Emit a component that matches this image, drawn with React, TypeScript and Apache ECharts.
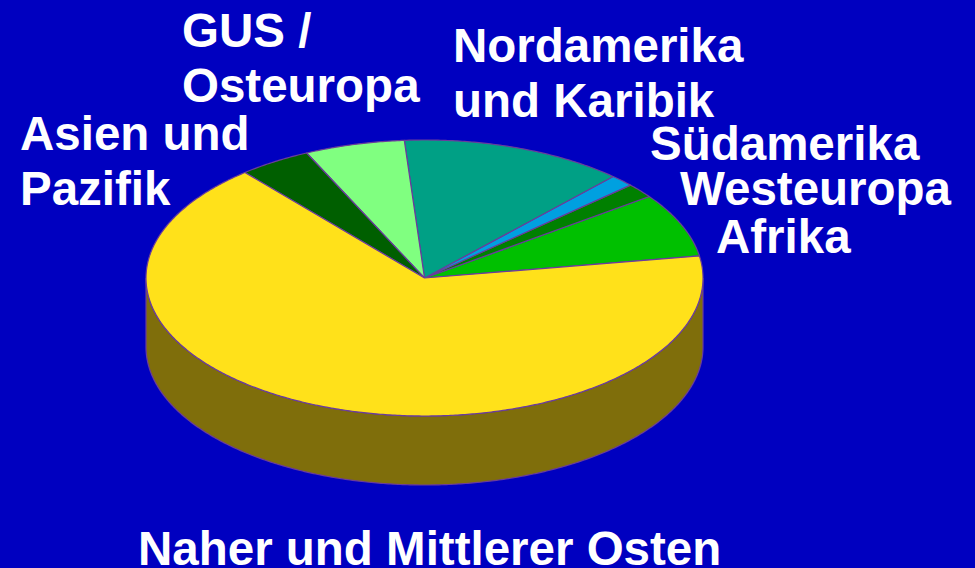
import React, { useEffect, useRef } from "react";
import * as echarts from "echarts";

// ---- data ----
const categories = [
  "Afrika",
  "Westeuropa",
  "Südamerika",
  "Nordamerika\nund Karibik",
  "GUS /\nOsteuropa",
  "Asien und\nPazifik",
  "Naher und Mittlerer Osten",
];
const shares = [7.5, 1.7, 1.4, 13.0, 5.8, 4.2, 66.4];
const topColors = ["#00C000", "#008000", "#00A0E0", "#00A085", "#80FF80", "#005F00", "#FFE11A"];
const sideColors = ["#006000", "#004000", "#005070", "#005042", "#408040", "#003000", "#7F6E0B"];

// ---- layout ----
const W = 975;
const H = 568;
const CX = 424.5;
const CY = 278;
const RX = 278.5;
const RY = 138;
const DEPTH = 69;
const START_ANGLE = 9.2; // degrees, counter-clockwise from 3 o'clock
const labelPos: [number, number][] = [
  [716, 253],
  [680, 205],
  [650, 160],
  [453, 62],
  [182, 47],
  [20, 150],
  [138, 565],
];
const LINE_GAP = 55;
const FONT_SIZE = 47.5;
const FONT = `bold ${FONT_SIZE}px "Liberation Sans", Arial, sans-serif`;
const OUTLINE = "#6A3C9C";
const BG = "#0000C0";

const RAD = Math.PI / 180;
const pt = (t: number, dy = 0): [number, number] => [
  CX + RX * Math.cos(t * RAD),
  CY - RY * Math.sin(t * RAD) + dy,
];
const arc = (a0: number, a1: number, dy = 0) => {
  const n = Math.max(2, Math.ceil(Math.abs(a1 - a0) / 0.5) + 1);
  const pts: [number, number][] = [];
  for (let k = 0; k < n; k++) pts.push(pt(a0 + ((a1 - a0) * k) / (n - 1), dy));
  return pts;
};

function sliceRange(idx: number, value: number) {
  const total = shares.reduce((a, b) => a + b, 0);
  let acc = 0;
  for (let j = 0; j < idx; j++) acc += shares[j];
  const a0 = START_ANGLE + (acc / total) * 360;
  const a1 = a0 + (value / total) * 360;
  return [a0, a1];
}

export default function App() {
  const ref = useRef<HTMLDivElement>(null);
  useEffect(() => {
    document.body.style.margin = "0";
    document.body.style.background = BG;
    const chart = echarts.init(ref.current!, null, { renderer: "svg" });
    const data = shares.map((v, i) => ({ value: v, name: categories[i] }));

    const graphic: any[] = [];
    categories.forEach((name, i) => {
      name.split("\n").forEach((line, j) => {
        graphic.push({
          type: "text",
          x: labelPos[i][0],
          y: labelPos[i][1] + j * LINE_GAP - FONT_SIZE * 0.3465,
          z: 10,
          style: {
            text: line,
            fill: "#FFFFFF",
            font: FONT,
            align: "left",
            verticalAlign: "middle",
          },
        });
      });
    });

    chart.setOption({
      animation: false,
      backgroundColor: BG,
      graphic,
      series: [
        {
          type: "custom",
          name: "side",
          coordinateSystem: "none",
          z: 1,
          data,
          renderItem: (params: any, api: any) => {
            const idx = params.dataIndex;
            const [a0, a1] = sliceRange(idx, api.value(0));
            const children: any[] = [];
            for (let k = -1; k <= 2; k++) {
              const lo = Math.max(a0, 180 + 360 * k);
              const hi = Math.min(a1, 360 + 360 * k);
              if (hi > lo) {
                const points = [...arc(lo, hi), ...arc(hi, lo, DEPTH)];
                children.push({
                  type: "polygon",
                  shape: { points },
                  style: { fill: sideColors[idx], stroke: OUTLINE, lineWidth: 1.2 },
                });
              }
            }
            return { type: "group", children };
          },
        },
        {
          type: "custom",
          name: "top",
          coordinateSystem: "none",
          z: 2,
          data,
          renderItem: (params: any, api: any) => {
            const idx = params.dataIndex;
            const [a0, a1] = sliceRange(idx, api.value(0));
            const points = [[CX, CY], ...arc(a0, a1)];
            return {
              type: "polygon",
              shape: { points },
              style: { fill: topColors[idx], stroke: OUTLINE, lineWidth: 1.2, lineJoin: "round" },
            };
          },
        },
      ],
    });
    return () => chart.dispose();
  }, []);
  return <div ref={ref} style={{ width: W, height: H }} />;
}
